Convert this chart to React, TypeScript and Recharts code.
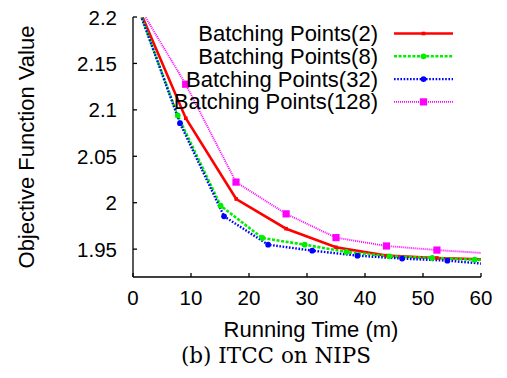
import React from 'react';
import { LineChart, Line, XAxis, YAxis, Legend } from 'recharts';

const seriesNames = ['Batching Points(2)', 'Batching Points(8)', 'Batching Points(32)', 'Batching Points(128)'];

const timeB2 = [0.4, 9.1, 17.8, 26.4, 35.0, 43.7, 52.4, 61.1];
const valueB2 = [2.218, 2.091, 2.004, 1.972, 1.952, 1.943, 1.9405, 1.939];

const timeB8 = [0.4, 7.7, 15.1, 22.3, 29.6, 36.8, 44.2, 51.6, 58.9, 66.2];
const valueB8 = [2.218, 2.094, 1.9968, 1.962, 1.9548, 1.947, 1.9423, 1.9405, 1.9387, 1.937];

const timeB32 = [0.4, 8.1, 15.7, 23.3, 30.9, 38.7, 46.4, 54.2, 61.9];
const valueB32 = [2.218, 2.0857, 1.9853, 1.9548, 1.9484, 1.943, 1.9398, 1.9376, 1.9335];

const timeB128 = [0.4, 9.08, 17.76, 26.4, 35.0, 43.7, 52.4, 61.1];
const valueB128 = [2.218, 2.1276, 2.0222, 1.988, 1.9624, 1.9534, 1.949, 1.9455];

const xTicks = [0, 10, 20, 30, 40, 50, 60];
const yTicks = [1.95, 2, 2.05, 2.1, 2.15, 2.2];
const xDomain = [0, 60];
const yDomain = [1.92, 2.2];

const toPoints = (xs: number[], ys: number[]) => xs.map((t, i) => ({ t, v: ys[i] }));

const series = [
  { name: seriesNames[0], data: toPoints(timeB2, valueB2), color: '#ff0000', width: 2.6, dash: undefined as string | undefined, marker: 'smallsq' },
  { name: seriesNames[1], data: toPoints(timeB8, valueB8), color: '#00ee00', width: 2.6, dash: '3 1.6', marker: 'circle' },
  { name: seriesNames[2], data: toPoints(timeB32, valueB32), color: '#0000ff', width: 2.4, dash: '1.6 1.6', marker: 'circle' },
  { name: seriesNames[3], data: toPoints(timeB128, valueB128), color: '#ff00ff', width: 1.9, dash: '1 1', marker: 'square' },
];

const FONT = '"Liberation Sans", Arial, Helvetica, sans-serif';

function Marker({ cx, cy, kind, color }: { cx: number; cy: number; kind: string; color: string }) {
  if (cx == null || cy == null || isNaN(cx) || isNaN(cy)) return null;
  if (kind === 'smallsq') return <rect x={cx - 1.8} y={cy - 1.8} width={3.6} height={3.6} fill={color} />;
  if (kind === 'square') return <rect x={cx - 3.6} y={cy - 3.6} width={7.2} height={7.2} fill={color} />;
  return <circle cx={cx} cy={cy} r={2.9} fill={color} />;
}

function XTick(props: any) {
  const { x, y, payload } = props;
  return (
    <text x={x} y={y} textAnchor="middle" dominantBaseline="hanging" fontFamily={FONT} fontSize={20.5} fill="#000">
      {payload.value}
    </text>
  );
}

function YTick(props: any) {
  const { x, y, payload } = props;
  return (
    <text x={x} y={y} textAnchor="end" dominantBaseline="central" fontFamily={FONT} fontSize={20.5} fill="#000">
      {payload.value}
    </text>
  );
}

function LegendBox() {
  const rowTop = 33.5;
  const rowStep = 22.8;
  return (
    <svg width={507} height={120} style={{ display: 'block' }}>
      {series.map((s, i) => {
        const cy = rowTop + i * rowStep;
        return (
          <g key={s.name}>
            <text x={378} y={cy} textAnchor="end" dominantBaseline="central" fontFamily={FONT} fontSize={22} fill="#000">
              {s.name}
            </text>
            <line x1={394} x2={453} y1={cy} y2={cy} stroke={s.color} strokeWidth={s.width} strokeDasharray={s.dash} />
            <Marker cx={423.5} cy={cy} kind={s.marker} color={s.color} />
          </g>
        );
      })}
    </svg>
  );
}

export default function App() {
  return (
    <div style={{ position: 'absolute', left: 0, top: 0, width: 507, height: 378, background: '#fff' }}>
      <LineChart width={507} height={378} margin={{ top: 17, right: 26, bottom: 71, left: 0 }}>
        <XAxis
          xAxisId={0}
          dataKey="t"
          type="number"
          domain={xDomain}
          ticks={xTicks}
          allowDataOverflow
          height={30}
          tickSize={-4}
          tickMargin={17}
          tick={<XTick />}
          stroke="#000"
          strokeWidth={1.3}
        />
        <XAxis
          xAxisId="top"
          orientation="top"
          dataKey="t"
          type="number"
          domain={xDomain}
          ticks={xTicks}
          allowDataOverflow
          height={0}
          tickSize={-4}
          tick={false}
          stroke="#000"
          strokeWidth={1.3}
        />
        <YAxis
          yAxisId={0}
          type="number"
          domain={yDomain}
          ticks={yTicks}
          allowDataOverflow
          width={133}
          tickSize={-4}
          tickMargin={20}
          tick={<YTick />}
          stroke="#000"
          strokeWidth={1.3}
        />
        <YAxis
          yAxisId="right"
          orientation="right"
          type="number"
          domain={yDomain}
          ticks={yTicks}
          allowDataOverflow
          width={0}
          tickSize={-4}
          tick={false}
          stroke="#000"
          strokeWidth={1.3}
        />
        {series.map((s) => (
          <Line
            key={s.name}
            xAxisId={0}
            yAxisId={0}
            data={s.data}
            dataKey="v"
            name={s.name}
            type="linear"
            stroke={s.color}
            strokeWidth={s.width}
            strokeDasharray={s.dash}
            isAnimationActive={false}
            dot={(p: any) => <Marker key={`${s.name}-${p.index}`} cx={p.cx} cy={p.cy} kind={s.marker} color={s.color} />}
            activeDot={false}
          />
        ))}
        <Legend
          layout="horizontal"
          verticalAlign="middle"
          align="center"
          wrapperStyle={{ top: 0, left: 0, width: 507, height: 120 }}
          content={() => <LegendBox />}
        />
      </LineChart>
      <div
        style={{
          position: 'absolute',
          left: 27,
          top: 147,
          transform: 'translate(-50%, -50%) rotate(-90deg)',
          fontFamily: FONT,
          fontSize: 22,
          whiteSpace: 'nowrap',
          lineHeight: 1,
        }}
      >
        Objective Function Value
      </div>
      <div
        style={{
          position: 'absolute',
          left: 311,
          top: 330,
          transform: 'translate(-50%, -50%)',
          fontFamily: FONT,
          fontSize: 22,
          whiteSpace: 'nowrap',
          lineHeight: 1,
        }}
      >
        Running Time (m)
      </div>
      <div
        style={{
          position: 'absolute',
          left: 276,
          top: 356,
          transform: 'translate(-50%, -50%)',
          fontFamily: '"URW Palladio L", Palatino, "Palatino Linotype", "DejaVu Serif", "Liberation Serif", serif',
          fontSize: 21.5,
          whiteSpace: 'nowrap',
          lineHeight: 1,
        }}
      >
        (b) ITCC on NIPS
      </div>
    </div>
  );
}
